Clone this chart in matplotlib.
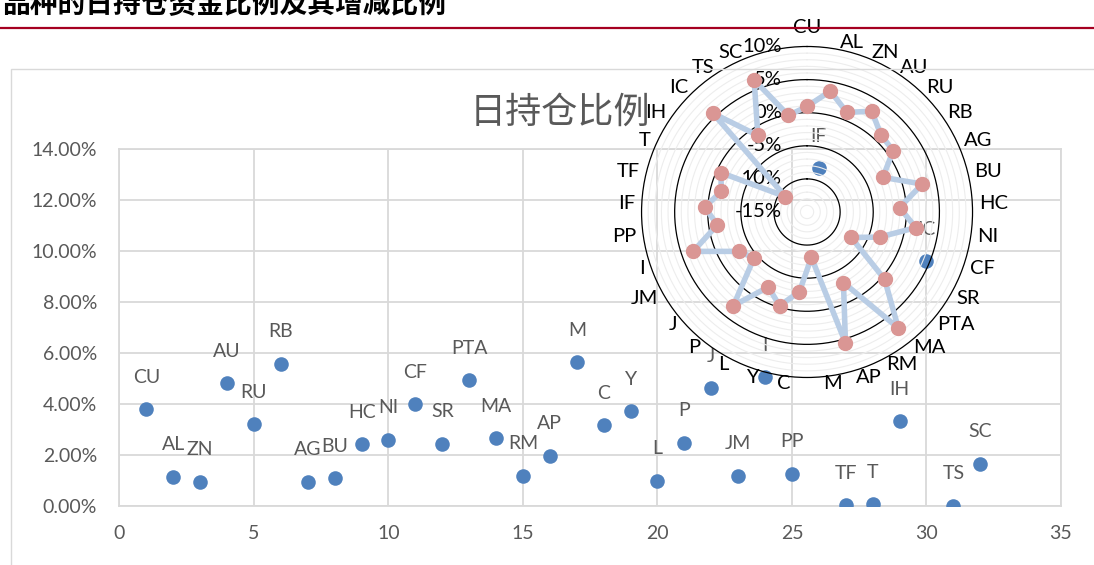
import numpy as np
import matplotlib.pyplot as plt
from matplotlib.lines import Line2D
from matplotlib.patches import Rectangle
from matplotlib.ticker import FuncFormatter, MultipleLocator

plt.rcParams['font.family'] = ['Lato', 'Noto Sans CJK SC', 'DejaVu Sans']

# scatter: daily position-money share of each contract (%)
codes = ['CU', 'AL', 'ZN', 'AU', 'RU', 'RB', 'AG', 'BU', 'HC', 'NI', 'CF', 'SR', 'PTA', 'MA', 'RM', 'AP',
         'M', 'C', 'Y', 'L', 'P', 'J', 'JM', 'I', 'PP', 'IF', 'TF', 'T', 'IH', 'IC', 'TS', 'SC']
seq = list(range(1, len(codes) + 1))
hold_ratio = [3.80, 1.15, 0.95, 4.82, 3.20, 5.58, 0.95, 1.10, 2.42, 2.61, 4.00, 2.45, 4.94, 2.65, 1.19, 1.98,
              5.65, 3.16, 3.72, 0.99, 2.49, 4.63, 1.19, 5.06, 1.27, 13.25, 0.04, 0.08, 3.32, 9.60, 0.02, 1.66]

# radar: change of the share (%), last category has no name
radar_codes = codes + ['']
change_pct = [0.95, 3.6, 1.2, 3.1, 1.15, 0.97, -2.4, 2.9, -1.0, 1.6, -3.4, -7.3, 0.5, 7.3, -3.0, 5.6,
              -8.1, -2.9, -0.24, -2.26, 3.0, -4.4, -3.1, 3.2, -1.3, 0.47, -1.7, -0.67, -11.0, 5.6, -1.26, 6.5,
              -0.15]
radar_ticks = [-15, -10, -5, 0, 5, 10]

GRAY = '#595959'
GRID = '#D9D9D9'

fig = plt.figure(figsize=(10.94, 5.65), dpi=100)

# heading + red rule
fig.text(0.002, 1 - 13.5 / 565, '品种的日持仓资金比例及其增减比例', fontsize=20, fontweight='bold',
         ha='left', va='baseline', family=['Noto Sans CJK SC'])
fig.add_artist(Line2D([0, 1], [0.95, 0.95], color='#A50021', lw=1.6))
fig.add_artist(Rectangle((0.0098, -0.05), 1.1, 0.8773 + 0.05, transform=fig.transFigure,
                         fill=False, ec=GRID, lw=1))
fig.text(560 / 1094, 1 - 113 / 565, '日持仓比例', fontsize=26, color=GRAY, ha='center', va='center',
         family=['Noto Sans CJK SC'], fontweight='light')

# scatter chart
ax = fig.add_axes([0.1092, 0.1044, 0.8606, 0.6314])
ax.scatter(seq, np.array(hold_ratio) / 100, s=110, color='#4F81BD', zorder=3, linewidths=0)
for c, x, v in zip(codes, seq, hold_ratio):
    ax.annotate(c, (x, v / 100), xytext=(0, 23), textcoords='offset points', ha='center', va='center',
                color=GRAY, fontsize=14)
ax.set_xlim(0, 35)
ax.set_ylim(0, 0.14)
ax.xaxis.set_major_locator(MultipleLocator(5))
ax.yaxis.set_major_locator(MultipleLocator(0.02))
ax.yaxis.set_major_formatter(FuncFormatter(lambda v, _: f'{v * 100:.2f}%'))
ax.grid(True, color=GRID, lw=1.3)
ax.set_axisbelow(True)
for s in ax.spines.values():
    s.set_color(GRID)
    s.set_linewidth(1.3)
ax.tick_params(length=0, labelsize=14, labelcolor=GRAY)
ax.tick_params(axis='y', pad=16)
ax.tick_params(axis='x', pad=14)

# radar chart on top
rax = fig.add_axes([0.5864, 0.3319, 0.3026, 0.5858], projection='polar')
rax.set_theta_zero_location('N')
rax.set_theta_direction(-1)
rax.set_ylim(-15, 10)
rax.set_facecolor('none')
rax.set_xticks([])
rax.set_yticks([])
rax.grid(False)
rax.spines['polar'].set_color('black')
rax.spines['polar'].set_linewidth(0.9)

ring = np.linspace(0, 2 * np.pi, 400)
for r in range(-14, 10):
    if r % 5 == 0:
        rax.plot(ring, np.full_like(ring, r), color='black', lw=0.9, zorder=1)
    else:
        rax.plot(ring, np.full_like(ring, r), color='#EDEDED', lw=0.8, zorder=1)

for t in radar_ticks:
    rax.annotate(f'{t}%', (0, t), xytext=(-25, 0), textcoords='offset pixels', ha='right', va='center',
                 fontsize=14.5, color='black', annotation_clip=False)

n = len(radar_codes)
theta = np.arange(n) * 2 * np.pi / n
for th, c in zip(theta, radar_codes):
    s = np.sin(th)
    if abs(s) < 0.05:
        ha, va, rr = 'center', 'bottom', 11.6
    else:
        ha, va, rr = ('left' if s > 0 else 'right'), 'center', 11.0
    rax.text(th, rr, c, ha=ha, va=va, fontsize=14.5, color='black', clip_on=False)

vals = np.array(change_pct)
rax.plot(np.append(theta, theta[0]), np.append(vals, vals[0]), color='#B9CDE5', lw=4, zorder=3,
         solid_joinstyle='round')
rax.plot(theta, vals, 'o', ms=10, color='#DA9694', zorder=4)

fig.savefig('out.png', dpi=100)
